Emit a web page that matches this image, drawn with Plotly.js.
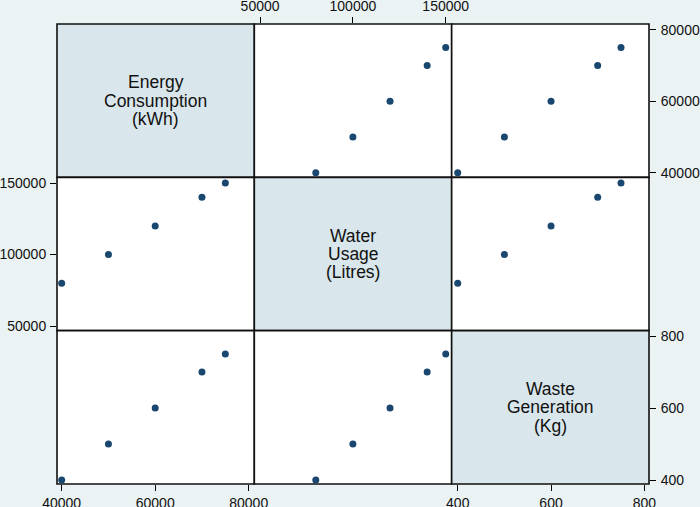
<!DOCTYPE html>
<html>
<head>
<meta charset="utf-8">
<script src="https://cdn.plot.ly/plotly-3.0.1.min.js"></script>
<style>
  html, body { margin: 0; padding: 0; background: #eaf2f3; }
  #matrix { width: 700px; height: 507px; }
</style>
</head>
<body>
<div id="matrix"></div>
<script>
// the three variables, one value per observation
var energy = [40000, 50000, 60000, 70000, 75000];     // kWh
var water  = [80000, 100000, 120000, 140000, 150000]; // litres
var waste  = [400, 500, 600, 700, 750];               // kg

var varLabels = [
  ['Energy', 'Consumption', '(kWh)'],
  ['Water', 'Usage', '(Litres)'],
  ['Waste', 'Generation', '(Kg)']
];

var energyTicks = [40000, 60000, 80000];
var waterTicks  = [50000, 100000, 150000];
var wasteTicks  = [400, 600, 800];

var navy = 'rgb(26, 71, 111)';   // stata navy

function dots(xv, yv, xa, ya) {
  return {
    x: xv, y: yv,
    xaxis: xa, yaxis: ya,
    type: 'scatter',
    mode: 'markers',
    marker: {color: navy, size: 7},
    hoverinfo: 'skip'
  };
}

// off-diagonal panels only, columns = x variable, rows = y variable
var data = [
  dots(water, energy, 'x2', 'y'),
  dots(waste, energy, 'x3', 'y'),
  dots(energy, water, 'x', 'y2'),
  dots(waste, water, 'x3', 'y2'),
  dots(energy, waste, 'x', 'y3'),
  dots(water, waste, 'x2', 'y3')
];

var third = 1 / 3;
var colDom = [[0, third], [third, 2 * third], [2 * third, 1]];
var rowDom = [[2 * third, 1], [third, 2 * third], [0, third]];   // top row first

function axis(dom, rng, ticks, anchor, side, standoff) {
  return {
    domain: dom,
    range: rng,
    anchor: anchor,
    side: side,
    tickmode: 'array',
    tickvals: ticks,
    ticktext: ticks.map(String),
    ticks: 'outside',
    ticklen: 6,
    tickwidth: 1,
    tickcolor: '#000',
    ticklabelstandoff: standoff,
    showgrid: false,
    zeroline: false,
    showline: false,
    tickfont: {family: 'Liberation Sans, Arial', size: 14, color: '#111'}
  };
}

// panel fills + outlines
var shapes = [];
var annotations = [];
for (var r = 0; r < 3; r++) {
  for (var c = 0; c < 3; c++) {
    shapes.push({
      type: 'rect', xref: 'paper', yref: 'paper', layer: 'below',
      x0: colDom[c][0], x1: colDom[c][1], y0: rowDom[r][0], y1: rowDom[r][1],
      fillcolor: r === c ? '#d9e6eb' : '#ffffff',
      line: {color: '#111', width: 1.6}
    });
  }
  // variable name on the diagonal, one annotation per line
  for (var k = 0; k < 3; k++) {
    annotations.push({
      xref: 'paper', yref: 'paper',
      x: (colDom[r][0] + colDom[r][1]) / 2,
      y: (rowDom[r][0] + rowDom[r][1]) / 2,
      yshift: (1 - k) * 18.3,
      text: varLabels[r][k],
      showarrow: false,
      xanchor: 'center', yanchor: 'middle',
      font: {family: 'Liberation Sans, Arial', size: 17.5, color: '#111'}
    });
  }
}

var layout = {
  width: 700,
  height: 507,
  margin: {l: 57, r: 51, t: 24, b: 23, pad: 0},
  paper_bgcolor: '#eaf2f3',
  plot_bgcolor: 'rgba(0,0,0,0)',
  showlegend: false,
  xaxis:  axis(colDom[0], [39000, 81200], energyTicks, 'y3', 'bottom', 0),
  xaxis2: axis(colDom[1], [46900, 153200], waterTicks, 'y', 'top', 0),
  xaxis3: axis(colDom[2], [387, 810], wasteTicks, 'y3', 'bottom', 0),
  yaxis:  axis(rowDom[0], [38700, 81600], energyTicks, 'x3', 'right', 2),
  yaxis2: axis(rowDom[1], [46800, 154000], waterTicks, 'x', 'left', 1),
  yaxis3: axis(rowDom[2], [389, 815], wasteTicks, 'x3', 'right', 2),
  shapes: shapes,
  annotations: annotations
};

var options = {
  staticPlot: true,      // picture only
  displayModeBar: false
};

Plotly.newPlot('matrix', data, layout, options);
</script>
</body>
</html>
